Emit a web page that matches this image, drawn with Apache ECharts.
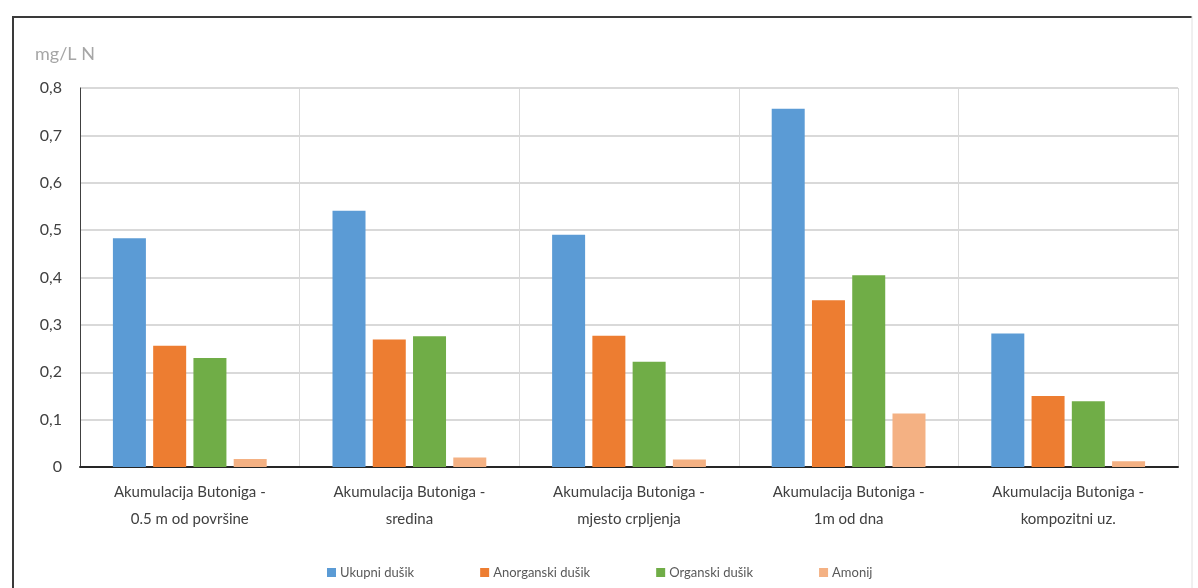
<!DOCTYPE html>
<html>
<head>
<meta charset="utf-8">
<script src="https://cdn.jsdelivr.net/npm/echarts@6/dist/echarts.min.js"></script>
<style>
html,body{margin:0;padding:0;background:#fff;}
#c{width:1198px;height:588px;}
</style>
</head>
<body>
<div id="c"></div>
<script>
const categories = [
  "Akumulacija Butoniga -\n0.5 m od površine",
  "Akumulacija Butoniga -\nsredina",
  "Akumulacija Butoniga -\nmjesto crpljenja",
  "Akumulacija Butoniga -\n1m od dna",
  "Akumulacija Butoniga -\nkompozitni uz."
];
const seriesNames = ["Ukupni dušik", "Anorganski dušik", "Organski dušik", "Amonij"];
const ukupni = [0.483, 0.541, 0.490, 0.756, 0.282];
const anorganski = [0.256, 0.269, 0.277, 0.352, 0.150];
const organski = [0.230, 0.276, 0.222, 0.405, 0.139];
const amonij = [0.017, 0.020, 0.016, 0.113, 0.012];
const yTicks = [0, 0.1, 0.2, 0.3, 0.4, 0.5, 0.6, 0.7, 0.8];
const unitLabel = "mg/L N";

const colors = ["#5B9BD5", "#ED7D31", "#70AD47", "#F4B183"];
const values = [ukupni, anorganski, organski, amonij];
const FONT = "Lato, 'Open Sans', sans-serif";

const chart = echarts.init(document.getElementById('c'), null, {renderer: 'canvas'});
chart.setOption({
  animation: false,
  backgroundColor: '#fff',
  textStyle: {fontFamily: FONT},
  grid: {left: 80, right: 20, top: 88, bottom: 121, containLabel: false},
  graphic: [
    {type: 'line', shape: {x1: 12, y1: 17, x2: 1192, y2: 17}, style: {stroke: '#3a3a3a', lineWidth: 2}},
    {type: 'line', shape: {x1: 13, y1: 16, x2: 13, y2: 588}, style: {stroke: '#3a3a3a', lineWidth: 2}},
    {type: 'line', shape: {x1: 1192, y1: 16, x2: 1192, y2: 588}, style: {stroke: '#e0e0e0', lineWidth: 1}},
    {type: 'text', left: 35, top: 45, style: {text: unitLabel, fill: '#a6a6a6', font: '18px ' + FONT}}
  ],
  legend: {
    data: seriesNames,
    left: 322,
    top: 561,
    itemWidth: 9,
    itemHeight: 9,
    itemGap: 66,
    icon: 'rect',
    textStyle: {color: '#595959', fontSize: 13, fontFamily: FONT, padding: [0, 0, 0, -1]}
  },
  xAxis: {
    type: 'category',
    data: categories,
    axisLine: {show: true, lineStyle: {color: '#262626', width: 2}},
    axisTick: {show: false},
    splitLine: {show: true, lineStyle: {color: '#d9d9d9', width: 1}},
    axisLabel: {color: '#404040', fontSize: 15, lineHeight: 27, margin: 12, interval: 0, fontFamily: FONT}
  },
  yAxis: {
    type: 'value',
    min: 0,
    max: 0.8,
    interval: 0.1,
    axisLine: {show: true, lineStyle: {color: '#404040', width: 1}},
    axisTick: {show: false},
    splitLine: {show: true, lineStyle: {color: '#d9d9d9', width: 2}},
    axisLabel: {
      color: '#404040', fontSize: 16, margin: 18, fontFamily: FONT,
      formatter: v => {
        const t = yTicks.find(x => Math.abs(x - v) < 1e-9);
        return t === 0 ? '0' : String(t === undefined ? v : t).replace('.', ',');
      }
    }
  },
  series: seriesNames.map((n, i) => ({
    name: n,
    type: 'bar',
    data: values[i],
    barWidth: 33,
    barGap: '22%',
    itemStyle: {color: colors[i]}
  }))
});
</script>
</body>
</html>
